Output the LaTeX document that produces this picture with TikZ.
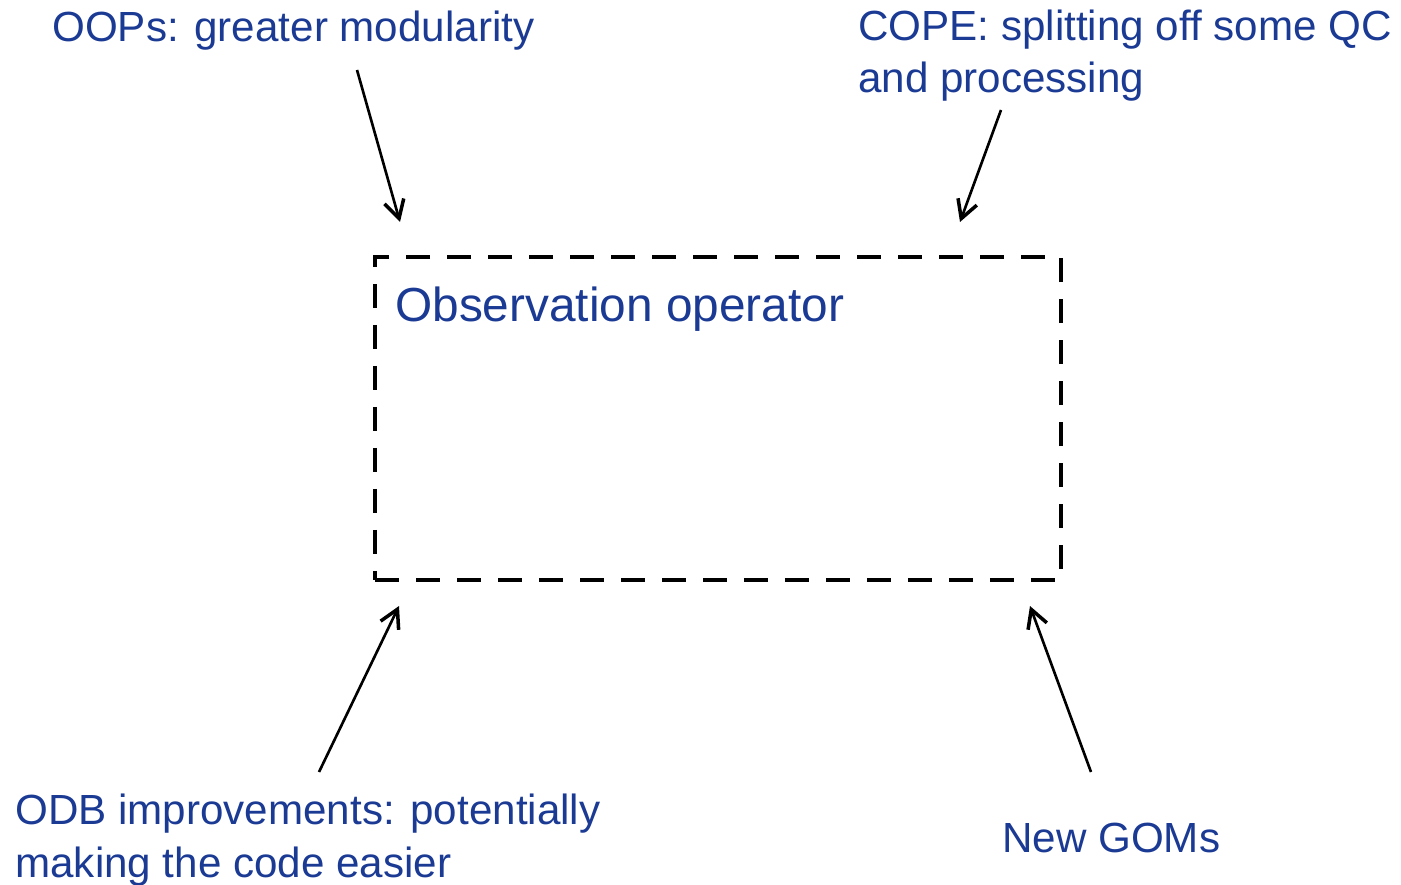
\documentclass[tikz,border=0pt]{standalone}
\usepackage{fontspec}
\setmainfont{Liberation Sans}
\usetikzlibrary{arrows.meta,positioning}
\definecolor{labelblue}{HTML}{1A3A94}

\begin{document}
\begin{tikzpicture}[
  x=0.02cm, y=-0.02cm,
  lbl/.style={anchor=base west, inner sep=0pt, text=labelblue, align=left,
              font=\fontsize{24}{29.6}\selectfont},
  ttl/.style={anchor=base west, inner sep=0pt, text=labelblue,
              font=\fontsize{27.2}{32}\selectfont},
  opbox/.style={draw, line width=2.7pt, dash pattern=on 0.48cm off 0.34cm,
                minimum width=13.72cm, minimum height=6.46cm, inner sep=0pt},
  feed/.style={-{Straight Barb[length=3.6mm, width=4mm, line width=2pt]},
               line width=1.5pt},
]
\useasboundingbox (0,0) rectangle (1401,885);

% operator box
\node[opbox] (obsop) at (718,418.5) {};
\node[ttl] (obstitle) at (395,322) {Observation operator};

% the four inputs (two-line labels sit on their last baseline)
\node[lbl] (oops) at (52,42) {OOPs: greater modularity};
\node[lbl] (cope) at (858,93) {COPE: splitting off some QC\\and processing};
\node[lbl] (odb) at (15,877) {ODB improvements: potentially\\making the code easier};
\node[lbl] (goms) at (1002,852) {New GOMs};

\coordinate (oopsS) at (357,70);   \coordinate (oopsE) at (400,222);
\coordinate (copeS) at (1001,110); \coordinate (copeE) at (960,222);
\coordinate (odbS) at (319,772);   \coordinate (odbE) at (399,606);
\coordinate (gomsS) at (1091,772); \coordinate (gomsE) at (1030,606);

\foreach \a in {oops, cope, odb, goms}
  \draw[feed] (\a S) -- (\a E);

\end{tikzpicture}
\end{document}
